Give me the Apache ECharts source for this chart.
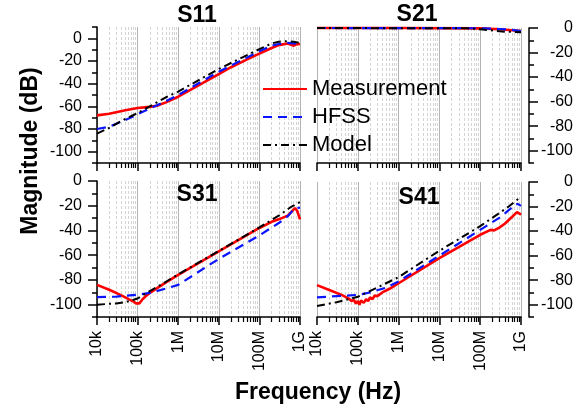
<!DOCTYPE html>
<html>
<head>
<meta charset="utf-8">
<script src="https://cdn.jsdelivr.net/npm/echarts@6/dist/echarts.min.js"></script>
<style>
html, body { margin: 0; padding: 0; background: #fff; }
#main { width: 584px; height: 411px; }
</style>
</head>
<body>
<div id="main"></div>
<script>
// ---- data (frequency in Hz, magnitude in dB) ----
var s11MeasF = [1e4, 2e4, 5e4, 1e5, 2e5, 3e5, 5e5, 1e6, 2e6, 5e6, 1e7, 2e7, 5e7, 1e8, 2e8, 3e8, 5e8, 7e8, 8e8, 1e9];
var s11MeasDb = [-68, -66.5, -63.5, -61.5, -60.5, -59.5, -56.5, -51.5, -45.5, -37.5, -31.5, -25.5, -18.5, -13.5, -8.5, -6, -4.5, -6.5, -5.5, -5];
var s11HfssF = [1e4, 2e4, 5e4, 1e5, 2e5, 3e5, 5e5, 1e6, 1e7, 1e8, 2e8, 3e8, 5e8, 7e8, 1e9];
var s11HfssDb = [-80, -78, -72, -67, -62, -59, -55.5, -50, -29.5, -11.5, -6.5, -5, -4, -4.5, -4.5];
var s11ModelF = [1e4, 2e4, 5e4, 1e5, 2e5, 5e5, 1e6, 1e7, 1e8, 2e8, 3e8, 5e8, 7e8, 1e9];
var s11ModelDb = [-84, -79, -71, -66, -60, -52, -47, -27, -9.5, -4.5, -3, -2.5, -3, -4];

var s21MeasF = [1e4, 1e6, 1e8, 3e8, 6e8, 1e9];
var s21MeasDb = [0, 0, -0.3, -1, -1.8, -2.5];
var s21HfssF = [1e4, 1e8, 3e8, 6e8, 1e9];
var s21HfssDb = [0, -0.2, -0.8, -1.5, -2.5];
var s21ModelF = [1e4, 5e7, 1e8, 2e8, 4e8, 7e8, 1e9];
var s21ModelDb = [0, -0.3, -1, -2, -3, -3.2, -3.5];

var s31MeasF = [1e4, 2e4, 4e4, 6e4, 8e4, 9e4, 1e5, 1.1e5, 1.3e5, 1.6e5, 2e5, 5e5, 1e6, 1e7, 1e8, 2e8, 3e8, 5e8, 7.5e8, 8.5e8, 1e9];
var s31MeasDb = [-84, -88, -92.5, -95.5, -97.5, -99, -97.5, -99, -96, -93, -90.5, -82, -76, -57, -38, -33, -31, -28, -22, -24, -31];
var s31HfssF = [1e4, 3e4, 1e5, 2e5, 5e5, 1e6, 1e7, 1e8, 3e8, 5e8, 7e8, 8e8, 1e9];
var s31HfssDb = [-94, -93.5, -92, -90.5, -87, -84, -63, -44, -34, -28.5, -23, -22, -21.5];
var s31ModelF = [1e4, 3e4, 5e4, 8e4, 1e5, 2e5, 5e5, 1e6, 1e7, 1e8, 3e8, 6e8, 1e9];
var s31ModelDb = [-100, -99, -98, -96, -95, -89, -81.5, -75.5, -56.5, -37.5, -28, -21, -17];

var s41MeasF = [1e4, 2e4, 4e4, 6e4, 7e4, 8e4, 9e4, 1e5, 1.1e5, 1.2e5, 1.4e5, 1.6e5, 1.8e5, 2e5, 2.3e5, 2.6e5, 3e5, 4e5, 6e5, 1e6, 1e7, 1e8, 1.8e8, 2.2e8, 3e8, 4e8, 6e8, 8e8, 1e9];
var s41MeasDb = [-84, -88, -92, -95, -97, -96, -99, -97, -100, -96.5, -98.5, -95.5, -97, -94, -95.5, -92.5, -93, -90, -87, -82.5, -62, -43, -39, -39.5, -37, -34, -28.5, -24.5, -26.5];
var s41HfssF = [1e4, 3e4, 1e5, 2e5, 5e5, 1e6, 1e7, 1e8, 3e8, 5e8, 7.5e8, 8.5e8, 1e9];
var s41HfssDb = [-94, -93, -92, -90, -86, -81, -60, -39, -29, -23, -18, -18, -19.5];
var s41ModelF = [1e4, 3e4, 1e5, 3e5, 1e6, 1e7, 1e8, 5e8, 1e9];
var s41ModelDb = [-101, -98, -93.5, -86, -77.5, -56, -36, -20, -12];

// ---- axis ticks and labels ----
var panelNames = ['S11', 'S21', 'S31', 'S41'];
var freqTickLabels = ['10k', '100k', '1M', '10M', '100M', '1G'];
var yMajorTicks = [-100, -80, -60, -40, -20, 0];
var yMinorTicks = [-110, -90, -70, -50, -30, -10, 10];
var minorSteps = [2, 3, 4, 5, 6, 7, 8, 9];

var FONT = '"Liberation Sans", Arial, sans-serif';

function pairs(f, v) {
    return f.map(function (x, i) { return [x, v[i]]; });
}

// log10 positions of the 2..9 minor ticks in every decade
var xMinorTicks = [];
for (var d = 4; d < 9; d++) {
    minorSteps.forEach(function (m) { xMinorTicks.push(d + Math.log10(m)); });
}

var myChart = echarts.init(document.getElementById('main'));

var grids = [
    {left: 97, top: 27, width: 203, height: 136},
    {left: 317, top: 28, width: 204, height: 135},
    {left: 97, top: 181, width: 203, height: 136},
    {left: 317, top: 182, width: 204, height: 135}
];
grids.forEach(function (g) { g.outerBoundsMode = 'none'; });

var xAxes = [], yAxes = [];
// main log axes (data, decade ticks, solid grid)
for (var i = 0; i < 4; i++) {
    xAxes.push({
        type: 'log', logBase: 10, gridIndex: i, min: 1e4, max: 1e9, position: 'bottom',
        axisLine: {onZero: false, lineStyle: {color: '#000', width: 1.5}},
        axisTick: {length: 8, lineStyle: {color: '#000', width: 1.5}},
        axisLabel: {
            show: i >= 2, rotate: 90, margin: 14, color: '#000', fontSize: 16, fontFamily: FONT,
            formatter: function (v) { return freqTickLabels[Math.round(Math.log10(v)) - 4]; }
        },
        splitLine: {show: true, lineStyle: {color: '#b4b4b4', width: 1}}
    });
}
// overlaid minor axes (2..9 ticks, dashed grid)
for (var i = 0; i < 4; i++) {
    xAxes.push({
        type: 'value', gridIndex: i, min: 4, max: 9, position: 'bottom',
        axisLine: {show: false, onZero: false},
        axisTick: {show: true, length: 5, customValues: xMinorTicks, lineStyle: {color: '#000', width: 1.2}},
        axisLabel: {show: false},
        splitLine: {show: true, lineStyle: {color: '#d4d4d4', width: 1, type: [3, 2]}}
    });
}
for (var i = 0; i < 4; i++) {
    var right = (i % 2 === 1);
    yAxes.push({
        type: 'value', gridIndex: i, min: -110, max: i === 0 ? 10 : 0,
        position: right ? 'right' : 'left', offset: right ? 8 : 0,
        axisLine: {show: true, onZero: false, lineStyle: {color: '#000', width: 1.5}},
        axisTick: {length: 9, customValues: yMajorTicks, lineStyle: {color: '#000', width: 1.5}},
        axisLabel: {
            customValues: yMajorTicks, color: '#000', fontSize: 16, fontFamily: FONT,
            align: 'right', margin: right ? 44 : 15
        },
        splitLine: {show: false}
    });
}
for (var i = 0; i < 4; i++) {
    var right = (i % 2 === 1);
    yAxes.push({
        type: 'value', gridIndex: i, min: -110, max: i === 0 ? 10 : 0,
        position: right ? 'right' : 'left', offset: right ? 8 : 0,
        axisLine: {show: false, onZero: false},
        axisTick: {length: 5, customValues: yMinorTicks, lineStyle: {color: '#000', width: 1.5}},
        axisLabel: {show: false},
        splitLine: {show: false}
    });
}

var measData = [pairs(s11MeasF, s11MeasDb), pairs(s21MeasF, s21MeasDb), pairs(s31MeasF, s31MeasDb), pairs(s41MeasF, s41MeasDb)];
var hfssData = [pairs(s11HfssF, s11HfssDb), pairs(s21HfssF, s21HfssDb), pairs(s31HfssF, s31HfssDb), pairs(s41HfssF, s41HfssDb)];
var modelData = [pairs(s11ModelF, s11ModelDb), pairs(s21ModelF, s21ModelDb), pairs(s31ModelF, s31ModelDb), pairs(s41ModelF, s41ModelDb)];

var series = [];
for (var i = 0; i < 4; i++) {
    series.push({
        name: 'Measurement', type: 'line', xAxisIndex: i, yAxisIndex: i,
        data: measData[i], symbol: 'none', clip: false,
        lineStyle: {color: '#ff0000', width: 2.6}, itemStyle: {color: '#ff0000'}
    });
    series.push({
        name: 'HFSS', type: 'line', xAxisIndex: i, yAxisIndex: i,
        data: hfssData[i], symbol: 'none', clip: false,
        lineStyle: {color: '#0a14ff', width: 2.2, type: [9, 6]}, itemStyle: {color: '#0a14ff'}
    });
    series.push({
        name: 'Model', type: 'line', xAxisIndex: i, yAxisIndex: i,
        data: modelData[i], symbol: 'none', clip: false,
        lineStyle: {color: '#000', width: 2, type: [8, 4, 2, 4]}, itemStyle: {color: '#000'}
    });
}

var titlePos = [[197, 16], [417, 15], [197, 195], [419, 198]];
var graphics = panelNames.map(function (n, i) {
    return {
        type: 'text', x: titlePos[i][0], y: titlePos[i][1], z: 100,
        style: {text: n, font: 'bold 23px ' + FONT, fill: '#000',
                align: 'center', verticalAlign: 'middle', textAlign: 'center', textVerticalAlign: 'middle'}
    };
});
graphics.push({
    type: 'text', x: 31, y: 151, rotation: Math.PI / 2, z: 100,
    style: {text: 'Magnitude (dB)', font: 'bold 23px ' + FONT, fill: '#000',
            align: 'center', verticalAlign: 'middle', textAlign: 'center', textVerticalAlign: 'middle'}
});
graphics.push({
    type: 'text', x: 318, y: 393, z: 100,
    style: {text: 'Frequency (Hz)', font: 'bold 23px ' + FONT, fill: '#000',
            align: 'center', verticalAlign: 'middle', textAlign: 'center', textVerticalAlign: 'middle'}
});

option = {
    animation: false,
    backgroundColor: '#fff',
    grid: grids,
    xAxis: xAxes,
    yAxis: yAxes,
    legend: {
        data: ['Measurement', 'HFSS', 'Model'],
        orient: 'vertical', left: 262, top: 78, padding: 0,
        itemWidth: 44, itemHeight: 2, itemGap: 6,
        itemStyle: {opacity: 0},
        textStyle: {color: '#000', fontSize: 22, fontFamily: FONT}
    },
    graphic: graphics,
    series: series
};

myChart.setOption(option);
</script>
</body>
</html>
